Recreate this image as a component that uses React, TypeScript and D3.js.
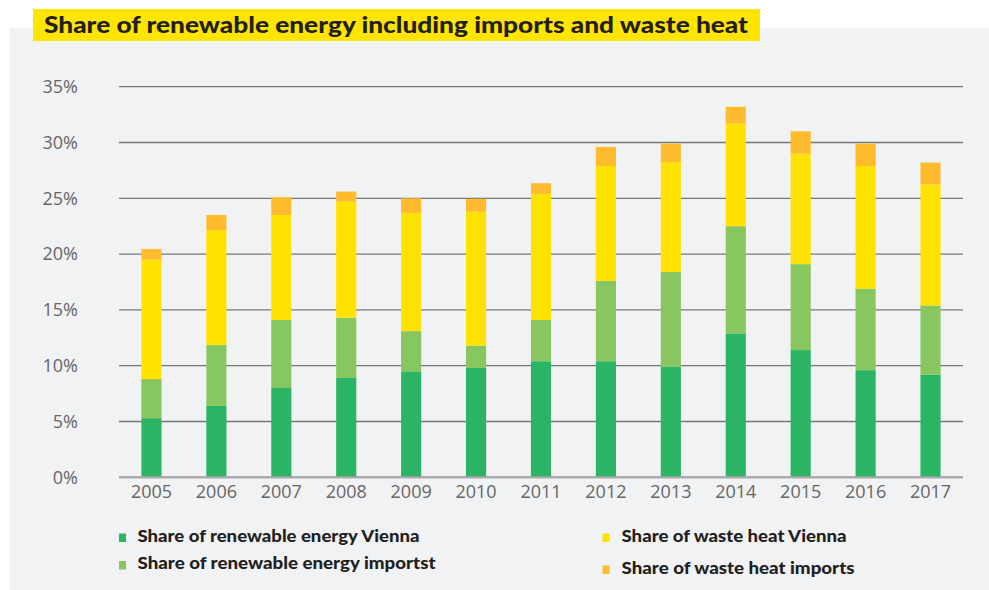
import React from "react";
import * as d3 from "d3";

const years = ["2005","2006","2007","2008","2009","2010","2011","2012","2013","2014","2015","2016","2017"];
const renewableVienna = [5.3, 6.4, 8.0, 8.9, 9.5, 9.8, 10.4, 10.4, 9.9, 12.9, 11.4, 9.6, 9.2];
const renewableImports = [3.5, 5.45, 6.1, 5.4, 3.6, 2.0, 3.7, 7.2, 8.5, 9.6, 7.7, 7.3, 6.2];
const wasteHeatVienna = [10.7, 10.3, 9.4, 10.4, 10.6, 12.0, 11.3, 10.3, 9.85, 9.2, 9.9, 11.0, 10.85];
const wasteHeatImports = [0.95, 1.35, 1.6, 0.9, 1.3, 1.15, 0.95, 1.7, 1.65, 1.5, 2.0, 2.0, 1.95];
const yTicks = [0, 5, 10, 15, 20, 25, 30, 35];
const seriesNames = [
  "Share of renewable energy Vienna",
  "Share of renewable energy importst",
  "Share of waste heat Vienna",
  "Share of waste heat imports",
];
const title = "Share of renewable energy including imports and waste heat";

const colors = ["#2bb463", "#88c760", "#ffe200", "#fdbb2d"];

export default function App() {
  const W = 989, H = 590;
  const x = d3.scaleBand<string>().domain(years).range([119, 963]).paddingInner(0.69).paddingOuter(0.345);
  const y = d3.scaleLinear().domain([0, 35]).range([477.3, 86.7]);
  const keys = ["rv", "ri", "wv", "wi"];
  const rows = years.map((yr, i) => ({
    year: yr,
    rv: renewableVienna[i],
    ri: renewableImports[i],
    wv: wasteHeatVienna[i],
    wi: wasteHeatImports[i],
  }));
  const stacked = d3.stack<any>().keys(keys)(rows);

  const legend = [
    { name: seriesNames[0], color: colors[0], sx: 119, sy: 533.5, tx: 137.5, ty: 541.7, tl: 282 },
    { name: seriesNames[1], color: colors[1], sx: 119, sy: 561, tx: 137.5, ty: 569.3, tl: 298 },
    { name: seriesNames[2], color: colors[2], sx: 602.5, sy: 533.5, tx: 621.5, ty: 541.7, tl: 225 },
    { name: seriesNames[3], color: colors[3], sx: 602.5, sy: 565.5, tx: 621.5, ty: 573.5, tl: 233 },
  ];

  return (
    <svg width={W} height={H} style={{ position: "absolute", left: 0, top: 0 }}>
      <rect x={0} y={0} width={W} height={H} fill="#ffffff" />
      <rect x={10} y={28} width={W - 10} height={H - 28} fill="#f1f2f4" />
      <rect x={33} y={9} width={727} height={32} fill="#ffe500" />
      <text
        x={44}
        y={33}
        fontFamily="Lato, 'Open Sans', sans-serif"
        fontWeight={900}
        fontSize={22}
        fill="#231f20"
        textLength={704}
        lengthAdjust="spacingAndGlyphs"
      >
        {title}
      </text>

      {yTicks.map((t) => (
        <g key={t}>
          <line
            x1={119}
            x2={963}
            y1={y(t)}
            y2={y(t)}
            stroke={t === 0 ? "#a8a8a8" : "#777777"}
            strokeWidth={t === 0 ? 2 : 1.3}
          />
          <text
            x={78}
            y={y(t)}
            dy="0.35em"
            textAnchor="end"
            fontFamily="'Open Sans', sans-serif"
            fontSize={18}
            fill="#666666"
          >
            {t}%
          </text>
        </g>
      ))}

      {stacked.map((s, si) => (
        <g key={s.key} fill={colors[si]}>
          {s.map((d: any, i: number) => (
            <rect
              key={i}
              x={x(years[i])}
              width={x.bandwidth()}
              y={y(d[1])}
              height={y(d[0]) - y(d[1])}
            />
          ))}
        </g>
      ))}

      <line x1={119} x2={963} y1={y(0)} y2={y(0)} stroke="#a8a8a8" strokeWidth={2} />

      {years.map((yr) => (
        <text
          key={yr}
          x={(x(yr) as number) + x.bandwidth() / 2}
          y={498}
          textAnchor="middle"
          fontFamily="'Open Sans', sans-serif"
          fontSize={18}
          fill="#666666"
        >
          {yr}
        </text>
      ))}

      {legend.map((l) => (
        <g key={l.name}>
          <rect x={l.sx} y={l.sy} width={7} height={8.5} fill={l.color} />
          <text
            x={l.tx}
            y={l.ty}
            fontFamily="Lato, 'Open Sans', sans-serif"
            fontWeight={900}
            fontSize={17}
            fill="#231f20"
            textLength={l.tl}
            lengthAdjust="spacingAndGlyphs"
          >
            {l.name}
          </text>
        </g>
      ))}
    </svg>
  );
}
